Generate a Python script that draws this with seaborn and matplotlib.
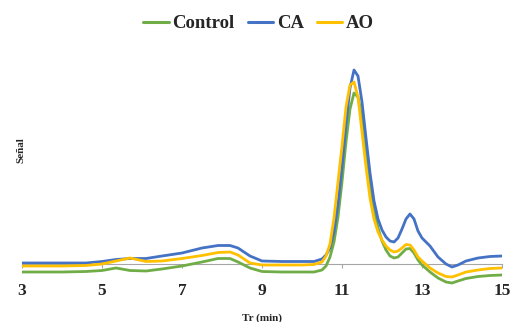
import matplotlib
matplotlib.use("Agg")
import matplotlib.pyplot as plt
import pandas as pd
import seaborn as sns
import numpy as np

sns.set_theme(style="white")
plt.rcParams['font.family'] = ['Liberation Serif', 'DejaVu Serif']

# retention time (min) and detector signal (arbitrary units)
tr = [3.0, 4.0, 4.6, 5.0, 5.35, 5.7, 6.1, 6.5, 7.0, 7.5, 7.9, 8.2, 8.4, 8.7, 9.0,
      9.5, 10.0, 10.3, 10.5, 10.6, 10.7, 10.8, 10.9, 11.0, 11.1, 11.2, 11.3, 11.4,
      11.5, 11.6, 11.7, 11.8, 11.9, 12.0, 12.1, 12.2, 12.3, 12.4, 12.5, 12.6, 12.7,
      12.8, 12.9, 13.0, 13.2, 13.4, 13.6, 13.75, 13.9, 14.1, 14.4, 14.7, 15.0]

control = [-8, -8, -7.5, -6.5, -4, -6.5, -7, -5, -2, 2, 5.5, 5.5, 2, -4, -7.5,
           -8, -8, -8, -6, -2, 7, 22, 47, 82, 122, 155, 171, 167,
           146, 114, 82, 55, 36, 23, 14, 8, 6, 7, 11, 15, 15.5,
           11, 4, -1, -8, -14, -18, -19, -17, -14.5, -12.5, -11.5, -11]

ca = [1, 1, 1, 2.5, 4.5, 5.5, 5.5, 8, 11, 16, 18.5, 18.5, 16, 8, 3,
      2.5, 2.5, 2.5, 5, 9, 16, 32, 60, 97, 140, 176, 194, 188,
      162, 126, 91, 63, 45, 34, 27, 23, 22, 26, 35, 45, 50,
      45, 33, 26, 18, 7, 0, -3, -1, 3, 6, 7.5, 8]

ao = [-2, -2, -1.5, 0, 3, 6, 2.5, 3, 5.5, 8.5, 11.5, 12, 9, 1, -1,
      -1, -1, -0.5, 2, 8, 20, 46, 82, 118, 157, 179, 182, 167,
      132, 97, 66, 45, 32, 24, 18, 14, 12, 13, 16, 19.5, 19,
      14, 7, 3, -4, -9, -12.5, -13, -11, -8, -6, -4.5, -4]

series = ["Control", "CA", "AO"]
colors = ["#70AD47", "#4472C4", "#FFC000"]

df = pd.DataFrame({"Tr": tr * 3,
                   "Senal": control + ca + ao,
                   "Muestra": ["Control"] * len(tr) + ["CA"] * len(tr) + ["AO"] * len(tr)})

fig = plt.figure(figsize=(5.11, 3.22), dpi=100)
ax = fig.add_axes([22 / 511, 32 / 322, 480 / 511, 230 / 322])

sns.lineplot(data=df, x="Tr", y="Senal", hue="Muestra", hue_order=series,
             palette=colors, estimator=None, linewidth=2.0, ax=ax, legend=False)

ax.set_xlim(3, 15)
ax.set_ylim(-26, 204)
ax.set_xticks([3, 5, 7, 9, 11, 13, 15])
ax.set_yticks([])

for s in ["top", "right", "left"]:
    ax.spines[s].set_visible(False)
ax.spines["bottom"].set_position(("data", 0))
ax.spines["bottom"].set_color("#a6a6a6")
ax.spines["bottom"].set_linestyle((0, (1, 1)))
ax.spines["bottom"].set_linewidth(0.8)
ax.spines["bottom"].set_zorder(0)

ax.tick_params(axis="x", bottom=True, direction="out", length=3, width=0.8,
               color="#a6a6a6", pad=10.5, labelsize=12.5)
for lab in ax.get_xticklabels():
    lab.set_fontweight("bold")

ax.set_xlabel("Tr (min)", fontsize=8, fontweight="bold")
ax.xaxis.set_label_coords(0.5, -0.10)
ax.set_ylabel("Señal", fontsize=8, fontweight="bold")
ax.yaxis.set_label_coords(0.008, 0.61)

handles = [plt.Line2D([], [], color=c, lw=2.2) for c in colors]
fig.legend(handles, series, loc="upper center", bbox_to_anchor=(0.506, 1.005), ncol=3,
           frameon=False, handlelength=1.35, handletextpad=0.2, columnspacing=0.7,
           prop={"weight": "bold", "size": 13.5})

fig.savefig("out.png", dpi=100)
